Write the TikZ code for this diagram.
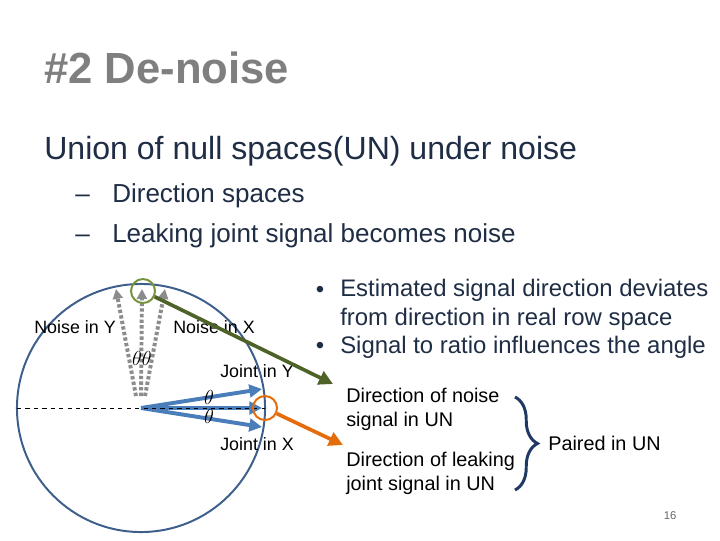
\documentclass[tikz,border=0pt]{standalone}
\usepackage{fontspec}
\setmainfont{Liberation Sans}
\usepackage{xcolor}
\usetikzlibrary{arrows.meta,decorations.pathreplacing}

\definecolor{titlegray}{HTML}{7F7F7F}
\definecolor{navytext}{HTML}{1F2D45}
\definecolor{ringblue}{HTML}{3D5F8C}
\definecolor{vecblue}{HTML}{4A7EBB}
\definecolor{ringgreen}{HTML}{77933C}
\definecolor{arrowgreen}{HTML}{4F6228}
\definecolor{ringorange}{HTML}{E46C0A}
\definecolor{bracenavy}{HTML}{1F3864}

\begin{document}
\begin{tikzpicture}[x=0.025cm, y=-0.025cm,
  % Node Styles
  slidetitle/.style={anchor=base west, inner sep=0, text=titlegray, font=\fontsize{31}{37}\selectfont\bfseries},
  heading/.style={anchor=base west, inner sep=0, text=navytext, font=\fontsize{22.8}{27}\selectfont},
  subitem/.style={anchor=base west, inner sep=0, text=navytext, font=\fontsize{18.5}{22}\selectfont},
  bullettext/.style={anchor=base west, inner sep=0, text=navytext, align=left, font=\fontsize{17}{20}\selectfont},
  vlabel/.style={anchor=base, inner sep=0, text=black, font=\fontsize{12.7}{15}\selectfont},
  notebox/.style={anchor=base west, inner sep=0, text=black, align=left, font=\fontsize{14.1}{17}\selectfont},
  anglelabel/.style={inner sep=0, font=\fontsize{14}{16}\selectfont},
  ring/.style={circle, draw, line width=1.4pt, minimum size=0.6cm, inner sep=0},
  % Arrow Styles
  sigvec/.style={vecblue, line width=2.8pt, -{Triangle[length=9pt, width=9pt]}},
  noisevec/.style={black!45, line width=2.8pt, dash pattern=on 2.4pt off 1.6pt, -{Triangle[length=7pt, width=7pt]}},
  pointarrow/.style={line width=2.6pt, -{Triangle[length=10pt, width=10pt]}}
]
\useasboundingbox[fill=white] (0,0) rectangle (720,540);

% Slide text
\node[slidetitle] (title) at (44,83) {\#2 De-noise};
\node[heading] (union) at (44,159) {Union of null spaces(UN) under noise};
\node[subitem] (dash_1) at (75,202) {--};
\node[subitem] (sub_1) at (112,202) {Direction spaces};
\node[subitem] (dash_2) at (75,242) {--};
\node[subitem] (sub_2) at (112,242) {Leaking joint signal becomes noise};
\node[bullettext, anchor=base] (bul_1) at (320,297) {\textbullet};
\node[bullettext] (est) at (340,325) {Estimated signal direction deviates\\from direction in real row space};
\node[bullettext, anchor=base] (bul_2) at (320,353) {\textbullet};
\node[bullettext] (snr) at (340,353) {Signal to ratio influences the angle};

% Diagram for: directions in UN
\draw[ringblue, line width=1.4pt] (141,408) circle (3.1cm);
\coordinate (o) at (141,408);
\coordinate (rim_l) at (17,408);
\coordinate (rim_r) at (265,408);
\coordinate (jointY) at (262,389);
\coordinate (mid) at (262,408);
\coordinate (jointX) at (262,427);

\draw[noisevec] (136,396) -- (116,289);
\draw[noisevec] (141,396) -- (142,289);
\draw[noisevec] (145,396) -- (165,289);

\draw[sigvec] (o) -- (mid);
\draw[sigvec] (o) -- (jointY);
\draw[sigvec] (o) -- (jointX);
\draw[dashed, thin] (rim_l) -- (rim_r);

\node[vlabel] (noiseY) at (75,333) {Noise in Y};
\node[vlabel] (noiseX) at (214,333) {Noise in X};
\node[vlabel] (jY) at (257,377) {Joint in Y};
\node[vlabel] (jX) at (257,450) {Joint in X};
\node[anglelabel] (thetapair) at (142,358) {$\theta\theta$};
\node[anglelabel] (theta_1) at (209,397) {$\theta$};
\node[anglelabel] (theta_2) at (209,416) {$\theta$};

\node[ring, draw=ringgreen] (greenring) at (143,291) {};
\node[ring, draw=ringorange] (orangering) at (265,408) {};

\node[notebox] (noisedir) at (346,426) {Direction of noise\\signal in UN};
\node[notebox] (leakdir) at (346,490) {Direction of leaking\\joint signal in UN};
\node[notebox] (paired) at (548,450) {Paired in UN};

\draw[pointarrow, arrowgreen] (greenring) -- (333,384);
\draw[pointarrow, ringorange] (orangering) -- (343,445);

\coordinate (brace_t) at (515,397);
\coordinate (brace_b) at (515,490);
\draw[bracenavy, line width=2.1pt, decorate, decoration={brace, amplitude=16pt}] (brace_t) -- (brace_b);

\node[inner sep=0, text=black!60, font=\fontsize{8}{9}\selectfont] (pagenum) at (670,516) {16};
\end{tikzpicture}
\end{document}
